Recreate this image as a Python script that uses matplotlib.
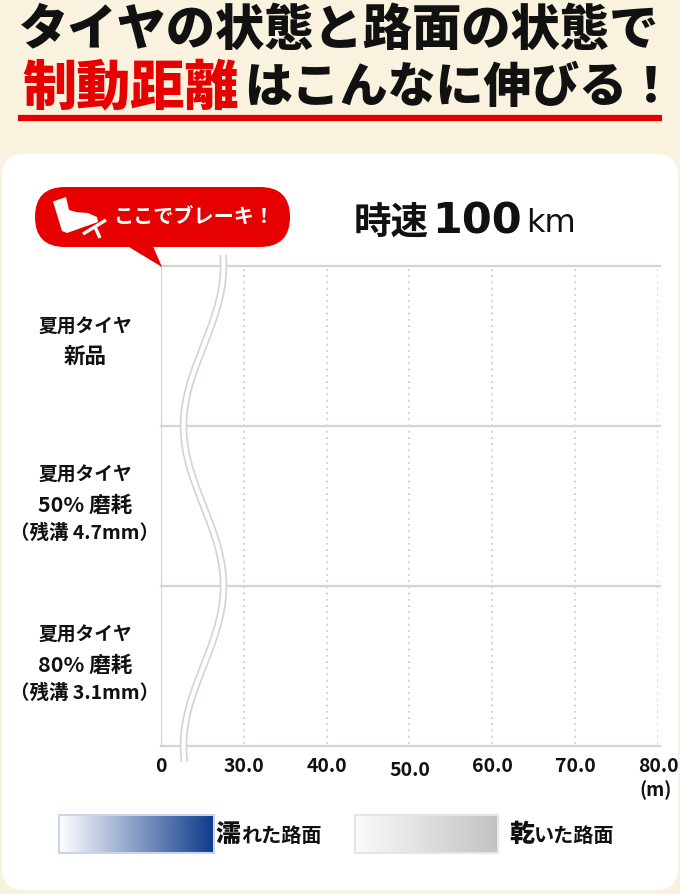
import numpy as np
import matplotlib
matplotlib.use('Agg')
import matplotlib.pyplot as plt
from matplotlib.patches import FancyBboxPatch, Polygon, Rectangle

plt.rcParams['font.family'] = ['Noto Sans CJK JP', 'DejaVu Sans']

# chart data
categories = ['夏用タイヤ\n新品',
              '夏用タイヤ\n50% 磨耗\n（残溝 4.7mm）',
              '夏用タイヤ\n80% 磨耗\n（残溝 3.1mm）']
distance_ticks = [20, 30, 40, 50, 60, 70, 80]   # axis is broken below 30
tick_labels = ['0', '30.0', '40.0', '50.0', '60.0', '70.0', '80.0']
legend_labels = [('濡', 'れた路面'), ('乾', 'いた路面')]
legend_colors = [('#ffffff', '#0f3b8c', '#c9d5ee'), ('#fbfbfb', '#c2c2c2', '#e6e6e6')]

W, H = 680, 894
CREAM = '#f9f2df'
GRID = '#d7d2cb'
RED = '#e60000'
INK = '#111111'

fig = plt.figure(figsize=(W / 100, H / 100), dpi=100)
fig.patch.set_facecolor(CREAM)

# background layer in pixel coords
bg = fig.add_axes([0, 0, 1, 1], zorder=0)
bg.set_xlim(0, W)
bg.set_ylim(H, 0)
bg.axis('off')

bg.add_patch(FancyBboxPatch((2, 154), W - 4, 736, boxstyle='round,pad=0,rounding_size=22',
                            facecolor='white', edgecolor='none'))

# headline
bg.text(339, 30, 'タイヤの状態と路面の状態で', ha='center', va='center',
        fontsize=35.5, fontweight='black', color=INK)
bg.text(22, 88, '制動距離', ha='left', va='center', fontsize=39,
        fontweight='black', color=RED)
bg.text(244, 88, 'はこんなに伸びる！', ha='left', va='center', fontsize=34.5,
        fontweight='black', color=INK)
bg.plot([18, 662], [118, 118], color=RED, lw=4.5, solid_capstyle='butt')

# speed label
bg.text(354, 222, '時速', ha='left', va='center', fontsize=27, fontweight='bold', color=INK)
bg.text(432, 221, '100', ha='left', va='center', fontsize=31, fontweight='bold',
        family='DejaVu Sans', color=INK)
bg.text(526, 224, 'km', ha='left', va='center', fontsize=23, family='DejaVu Sans', color=INK)

# legend
for i, ((big, rest), (c0, c1, edge)) in enumerate(zip(legend_labels, legend_colors)):
    x0 = [59, 355][i]
    x1 = [214, 498][i]
    grad = np.linspace(0, 1, 256).reshape(1, -1)
    cmap = matplotlib.colors.LinearSegmentedColormap.from_list('g%d' % i, [c0, c1])
    bg.imshow(grad, cmap=cmap, extent=(x0, x1, 853, 815), aspect='auto', zorder=1)
    bg.add_patch(Rectangle((x0, 815), x1 - x0, 38, facecolor='none', edgecolor=edge, lw=1.5, zorder=2))
    tx = [216, 509][i]
    bg.text(tx, 834, big, ha='left', va='center', fontsize=18, fontweight='black', color=INK)
    bg.text(tx + 25, 836, rest, ha='left', va='center', fontsize=14.5, fontweight='bold', color=INK)
bg.set_xlim(0, W)
bg.set_ylim(H, 0)

# chart axes
ax = fig.add_axes([161 / W, 1 - 746 / H, (658 - 161) / W, (746 - 266) / H], zorder=1)
ax.patch.set_alpha(0)
ax.set_xlim(distance_ticks[0], distance_ticks[-1])
ax.set_ylim(len(categories), 0)
for s in ax.spines.values():
    s.set_visible(False)
ax.set_xticks([])
ax.set_yticks([])

for k in range(len(categories) + 1):
    ax.axhline(k, color=GRID, lw=1.6, xmin=0, xmax=1.004, clip_on=False)
ax.axvline(distance_ticks[0], color=GRID, lw=1.6)
ax.vlines(distance_ticks[1:], 0.02, len(categories), color=GRID, lw=1.4,
          linestyles=(0, (1, 2.2)))

# category labels, line by line (middle line is larger)
row_px = (746 - 266) / len(categories)
for k, name in enumerate(categories):
    lines = name.split('\n')
    offs = [-19, 10] if len(lines) == 2 else [-31, -1, 27]
    sizes = [13.5, 15.5] if len(lines) == 2 else [13.5, 15.5, 14]
    for line, off, fs in zip(lines, offs, sizes):
        ax.text(-0.153, k + 0.5 + off / row_px, line, transform=ax.get_yaxis_transform(),
                ha='center', va='center', fontsize=fs, fontweight='bold', color=INK)

for v, lab in zip(distance_ticks, tick_labels):
    dy = 3 / row_px if lab == '50.0' else 0.0
    ax.text(v, len(categories) + 21 / row_px + dy, lab, ha='center', va='center',
            fontsize=14, fontweight='bold', color=INK, clip_on=False)
ax.text(distance_ticks[-1] - 0.3, len(categories) + 44 / row_px, '(m)', ha='center', va='center',
        fontsize=13.5, fontweight='bold', color=INK, clip_on=False)

# foreground: axis break and brake bubble
fg = fig.add_axes([0, 0, 1, 1], zorder=3)
fg.set_xlim(0, W)
fg.set_ylim(H, 0)
fg.axis('off')
fg.patch.set_alpha(0)

yy = np.linspace(255, 762, 400)
xx = 203.5 + 20 * np.cos(np.pi * (yy - 266) / 160)
fg.plot(xx, yy, color=GRID, lw=5.4, solid_capstyle='butt')
fg.plot(xx, yy, color='white', lw=3.0, solid_capstyle='butt')

fg.add_patch(FancyBboxPatch((35, 187), 255, 60, boxstyle='round,pad=0,rounding_size=30',
                            facecolor=RED, edgecolor='none'))
fg.add_patch(Polygon([(124, 244), (152, 244), (162, 267)], closed=True,
                     facecolor=RED, edgecolor='none'))
boot = [(53, 201.5), (66, 197), (69, 210), (76, 212), (88, 213), (97, 217), (98, 222),
        (67, 233), (62, 231)]
fg.add_patch(Polygon(boot, closed=True, facecolor='white', edgecolor='none'))
for lx in (78, 82, 86):
    fg.plot([lx, lx + 2], [211.5, 207], color=RED, lw=1.0)
fg.plot([83, 106], [234, 220], color='white', lw=2.4, solid_capstyle='butt')
fg.plot([95.5, 100], [228, 238], color='white', lw=2.4, solid_capstyle='butt')
fg.text(114, 217, 'ここでブレーキ！', ha='left', va='center', fontsize=14.5,
        fontweight='bold', color='white')

fig.savefig('out.png', dpi=100, facecolor=fig.get_facecolor())
